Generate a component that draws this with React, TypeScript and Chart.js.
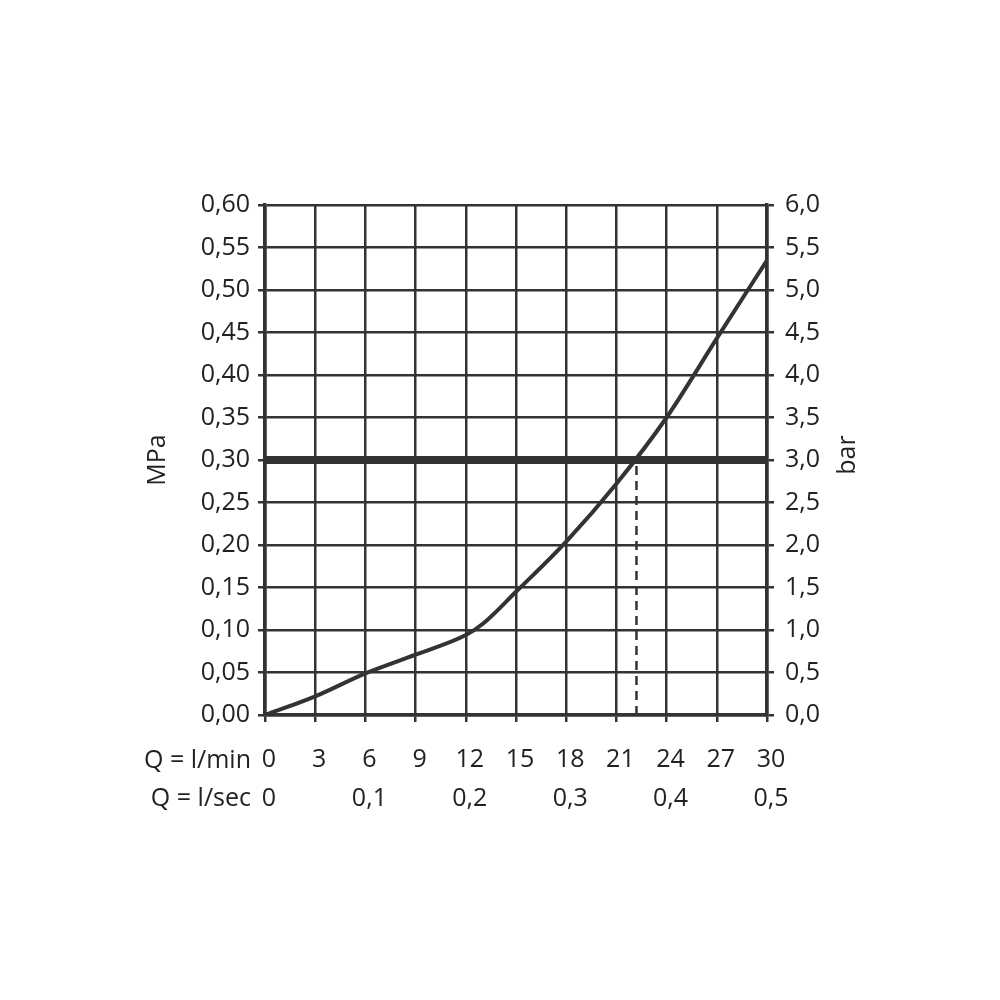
import React, { useEffect, useRef } from "react";
import { Chart, registerables } from "chart.js";

Chart.register(...registerables);

const flowLmin = [0, 3, 6, 9, 12, 13, 15, 18, 21, 24, 27, 30];
const pressureMPa = [0, 0.022, 0.049, 0.071, 0.094, 0.107, 0.145, 0.204, 0.272, 0.35, 0.443, 0.535];
const limitMPa = 0.3;
const limitFlow = 22.2;
const xRange = [0, 30];
const xSecRange = [0, 0.5];
const mpaRange = [0, 0.6];
const barRange = [0, 6];
const axisTitleLeft = "MPa";
const axisTitleRight = "bar";
const rowLabelMin = "Q = l/min";
const rowLabelSec = "Q = l/sec";

const FONT = "'Open Sans', 'DejaVu Sans', sans-serif";
const FS = 25;
const INK = "#222222";
const LINE = "#333333";

const comma = (v: number, d: number) => v.toFixed(d).replace(".", ",");

export default function App() {
  const ref = useRef<HTMLCanvasElement | null>(null);

  useEffect(() => {
    if (!ref.current) return;

    const textPlugin = {
      id: "extraText",
      afterDraw(chart: any) {
        const ctx = chart.ctx;
        const area = chart.chartArea;
        ctx.save();
        ctx.fillStyle = INK;
        ctx.font = `${FS}px ${FONT}`;
        ctx.textBaseline = "middle";
        ctx.textAlign = "right";
        ctx.fillText(rowLabelMin, area.left - 14, area.bottom + 46);
        ctx.fillText(rowLabelSec, area.left - 14, area.bottom + 84);
        ctx.textAlign = "center";
        ctx.translate(area.left - 107, (area.top + area.bottom) / 2);
        ctx.rotate(-Math.PI / 2);
        ctx.fillText(axisTitleLeft, 0, 0);
        ctx.restore();
        ctx.save();
        ctx.fillStyle = INK;
        ctx.font = `${FS}px ${FONT}`;
        ctx.textBaseline = "middle";
        ctx.textAlign = "center";
        ctx.translate(area.right + 81, (area.top + area.bottom) / 2 - 5);
        ctx.rotate(-Math.PI / 2);
        ctx.fillText(axisTitleRight, 0, 0);
        ctx.restore();
      },
    };

    const chart = new Chart(ref.current, {
      type: "scatter",
      data: {
        datasets: [
          {
            data: flowLmin.map((x, i) => ({ x, y: pressureMPa[i] })),
            showLine: true,
            borderColor: LINE,
            borderWidth: 4,
            pointRadius: 0,
            cubicInterpolationMode: "monotone",
            order: 0,
          },
          {
            data: [
              { x: xRange[0], y: limitMPa },
              { x: xRange[1], y: limitMPa },
            ],
            showLine: true,
            borderColor: LINE,
            borderWidth: 8,
            pointRadius: 0,
            order: 1,
          },
          {
            data: [
              { x: limitFlow, y: 0 },
              { x: limitFlow, y: limitMPa },
            ],
            showLine: true,
            borderColor: LINE,
            borderWidth: 2.5,
            borderDash: [9, 6],
            pointRadius: 0,
            order: 2,
          },
        ],
      },
      options: {
        animation: false,
        responsive: false,
        maintainAspectRatio: false,
        layout: { padding: { top: 205, left: 0, right: 0, bottom: 0 } },
        plugins: { legend: { display: false }, tooltip: { enabled: false } },
        scales: {
          x: {
            type: "linear",
            position: "bottom",
            weight: 0,
            min: xRange[0],
            max: xRange[1],
            ticks: {
              stepSize: 3,
              color: INK,
              font: { size: FS, family: FONT },
              padding: 23,
              labelOffset: 4,
              maxRotation: 0,
              autoSkip: false,
            },
            grid: { color: LINE, lineWidth: 2.5, tickLength: 7, drawTicks: true },
            border: { color: LINE, width: 3.5 },
            afterFit: (s: any) => {
              s.height = 60;
            },
          },
          x2: {
            type: "linear",
            position: "bottom",
            weight: 1,
            min: xSecRange[0],
            max: xSecRange[1],
            ticks: {
              stepSize: 0.1,
              color: INK,
              font: { size: FS, family: FONT },
              padding: 9,
              labelOffset: 4,
              maxRotation: 0,
              autoSkip: false,
              callback: (v: any) => (Number(v) === 0 ? "0" : comma(Number(v), 1)),
            },
            grid: { display: false, drawTicks: false },
            border: { display: false },
            afterFit: (s: any) => {
              s.height = 225;
            },
          },
          y: {
            type: "linear",
            position: "left",
            min: mpaRange[0],
            max: mpaRange[1],
            ticks: {
              stepSize: 0.05,
              color: INK,
              font: { size: FS, family: FONT },
              padding: 8,
              autoSkip: false,
              callback: (v: any) => comma(Number(v), 2),
            },
            grid: { color: LINE, lineWidth: 2.5, tickLength: 7, drawTicks: true },
            border: { color: LINE, width: 3.5 },
            afterFit: (s: any) => {
              s.width = 265;
            },
          },
          y2: {
            type: "linear",
            position: "right",
            min: barRange[0],
            max: barRange[1],
            ticks: {
              stepSize: 0.5,
              color: INK,
              font: { size: FS, family: FONT },
              padding: 11,
              autoSkip: false,
              callback: (v: any) => comma(Number(v), 1),
            },
            grid: { color: LINE, lineWidth: 2.5, tickLength: 7, drawOnChartArea: false, drawTicks: true },
            border: { color: LINE, width: 3.5 },
            afterFit: (s: any) => {
              s.width = 233;
            },
          },
        },
      } as any,
      plugins: [textPlugin],
    });

    return () => chart.destroy();
  }, []);

  return (
    <div style={{ position: "absolute", left: 0, top: 0, width: 1000, height: 1000, background: "#fff" }}>
      <canvas ref={ref} width={1000} height={1000} style={{ width: 1000, height: 1000 }} />
    </div>
  );
}
